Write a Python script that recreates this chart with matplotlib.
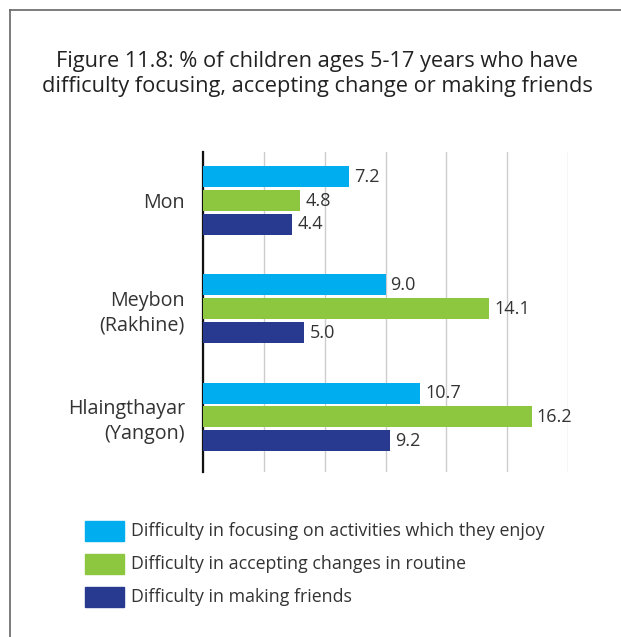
import matplotlib
matplotlib.use("Agg")
import matplotlib.pyplot as plt
import numpy as np
from matplotlib.patches import Rectangle

plt.rcParams["font.family"] = ["Open Sans", "DejaVu Sans"]

TITLE = "Figure 11.8: % of children ages 5-17 years who have\ndifficulty focusing, accepting change or making friends"
regions = ["Mon", "Meybon\n(Rakhine)", "Hlaingthayar\n(Yangon)"]
series = ["Difficulty in focusing on activities which they enjoy",
          "Difficulty in accepting changes in routine",
          "Difficulty in making friends"]
focusing = [7.2, 9.0, 10.7]
accepting = [4.8, 14.1, 16.2]
friends = [4.4, 5.0, 9.2]
colors = ["#00AEEF", "#8DC63F", "#283A8F"]
xticks = [0, 3, 6, 9, 12, 15, 18]

W, H = 621, 637
fig = plt.figure(figsize=(W / 100, H / 100), dpi=100)

# frame around the figure (only left and top edges fall inside the canvas)
fig.add_artist(plt.Line2D([10 / W, 10 / W], [0, 1 - 10 / H], transform=fig.transFigure,
                          color="#666666", lw=1.2))
fig.add_artist(plt.Line2D([10 / W, 1], [1 - 10 / H, 1 - 10 / H], transform=fig.transFigure,
                          color="#666666", lw=1.2))

fig.text(317 / W, 1 - 74 / H, TITLE, ha="center", va="center", fontsize=15.7,
         color="#222222", linespacing=1.2)

ax = fig.add_axes([203 / W, 1 - 472 / H, (568 - 203) / W, (472 - 152) / H])
y = np.arange(len(regions))
h = 0.194
step = 0.22
for k, (vals, c) in enumerate(zip([focusing, accepting, friends], colors)):
    pos = y + (k - 1) * step
    ax.barh(pos, vals, height=h, color=c, zorder=3)
    for p, v in zip(pos, vals):
        ax.text(v + 0.25, p, f"{v:.1f}", va="center", ha="left", fontsize=13,
                color="#333333", zorder=4)

ax.set_xlim(0, 18)
ax.set_ylim(2.51, -0.45)
ax.set_xticks(xticks)
ax.set_xticklabels([])
ax.tick_params(length=0)
ax.grid(axis="x", color="#CCCCCC", lw=1.0, zorder=0)
ax.set_yticks(y)
ax.set_yticklabels(regions, fontsize=14.2, color="#333333", ha="right", linespacing=1.3)
ax.tick_params(axis="y", pad=13)
for s in ["top", "right", "bottom"]:
    ax.spines[s].set_visible(False)
ax.spines["left"].set_linewidth(1.6)
ax.spines["left"].set_color("#111111")

# legend drawn as swatches + labels
for i, (lab, c) in enumerate(zip(series, colors)):
    yc = 531 + i * 33
    fig.add_artist(Rectangle((85 / W, 1 - (yc + 10) / H), 39 / W, 20 / H,
                             transform=fig.transFigure, color=c))
    fig.text(131 / W, 1 - yc / H, lab, ha="left", va="center", fontsize=12.8,
             color="#333333")

fig.savefig("out.png", dpi=100)
